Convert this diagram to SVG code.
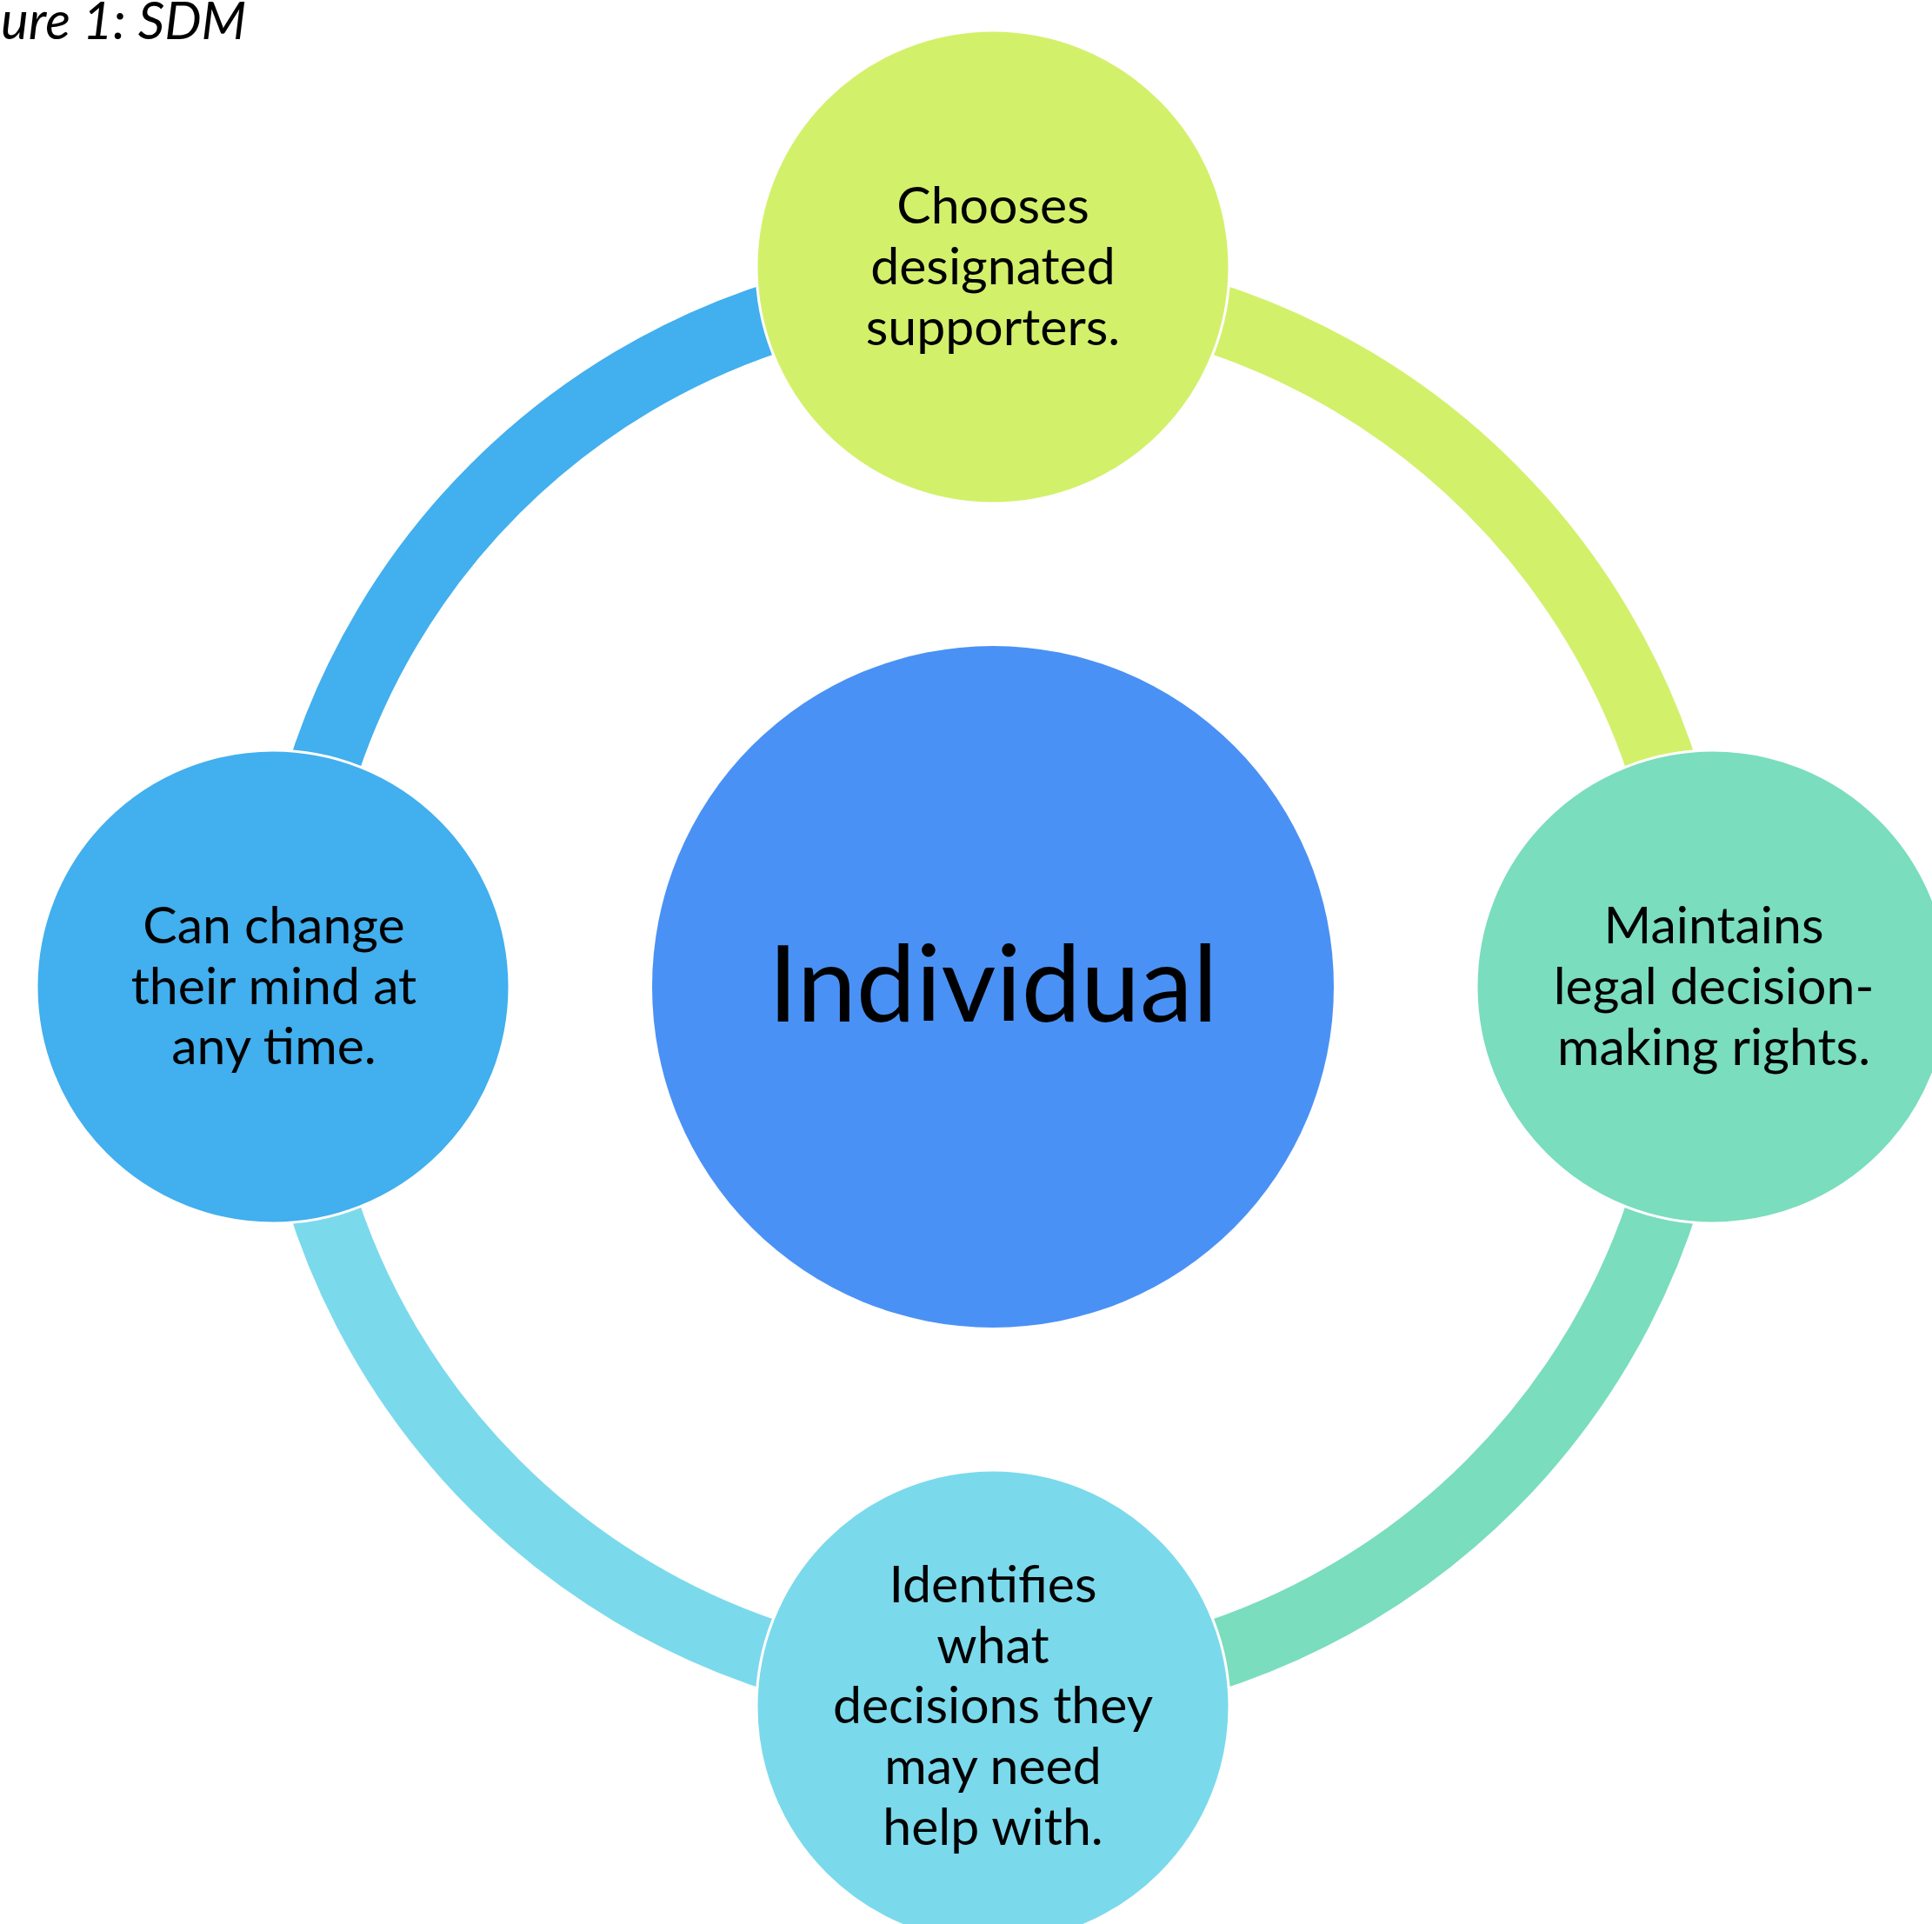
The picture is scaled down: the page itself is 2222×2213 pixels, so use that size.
<svg xmlns="http://www.w3.org/2000/svg" width="2222" height="2213" viewBox="0 0 2222 2213">
<style>
text{font-family:Lato,"Liberation Sans",sans-serif;fill:#000;text-anchor:middle}
.t{font-size:59px}
.big{font-size:122px}
.title{font-size:60px;font-style:italic;text-anchor:start}
.node{stroke:#fff;stroke-width:3}
.arc{fill:none;stroke-width:80;stroke-linecap:butt}
</style>
<rect width="2222" height="2213" fill="#fff"/>
<text class="title" x="1" y="45">ure 1: SDM</text>
<g id="connectors">
<path class="arc" stroke="#42AFEE" d="M 367.4 898.2 A 810 810 0 0 1 905.2 360.4"/>
<path class="arc" stroke="#D3F06B" d="M 1378.8 360.4 A 810 810 0 0 1 1916.6 898.2"/>
<path class="arc" stroke="#7ADDBD" d="M 1916.6 1371.8 A 810 810 0 0 1 1378.8 1909.6"/>
<path class="arc" stroke="#7BD9EC" d="M 905.2 1909.6 A 810 810 0 0 1 367.4 1371.8"/>
</g>
<g id="center">
<circle cx="1142" cy="1135" r="392" fill="#4A91F5"/>
<text class="big" x="1142" y="1175">Individual</text>
</g>
<g id="top">
<circle class="node" cx="1142" cy="307" r="272" fill="#D3F06B"/>
<text class="t" x="1142" y="257">Chooses</text>
<text class="t" x="1142" y="327">designated</text>
<text class="t" x="1142" y="397">supporters.</text>
</g>
<g id="right">
<circle class="node" cx="1970" cy="1135" r="272" fill="#7ADDBD"/>
<text class="t" x="1971" y="1085">Maintains</text>
<text class="t" x="1971" y="1155">legal decision-</text>
<text class="t" x="1971" y="1225">making rights.</text>
</g>
<g id="bottom">
<circle class="node" cx="1142" cy="1963" r="272" fill="#7BD9EC"/>
<text class="t" x="1142" y="1843">Identifies</text>
<text class="t" x="1142" y="1913">what</text>
<text class="t" x="1142" y="1982">decisions they</text>
<text class="t" x="1142" y="2052">may need</text>
<text class="t" x="1142" y="2122">help with.</text>
</g>
<g id="left">
<circle class="node" cx="314" cy="1135" r="272" fill="#42AFEE"/>
<text class="t" x="315" y="1085">Can change</text>
<text class="t" x="315" y="1155">their mind at</text>
<text class="t" x="315" y="1224">any time.</text>
</g>
</svg>
